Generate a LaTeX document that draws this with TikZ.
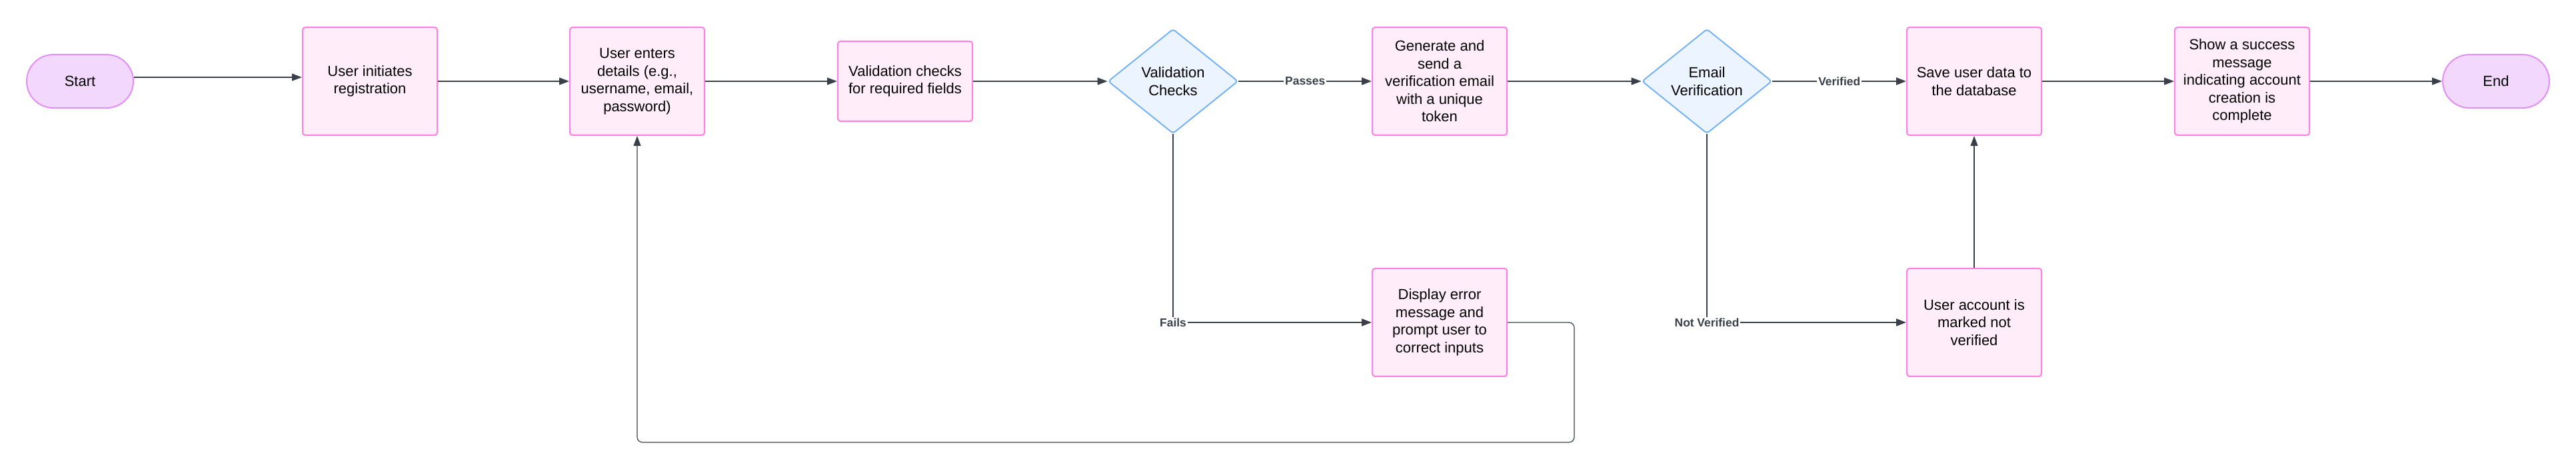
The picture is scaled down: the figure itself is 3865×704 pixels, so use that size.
\documentclass[tikz,border=0pt]{standalone}
\usepackage{fontspec}
\setmainfont{Liberation Sans}
\usetikzlibrary{shapes.geometric,arrows.meta}

\definecolor{boxfill}{HTML}{FFEEFA}
\definecolor{boxline}{HTML}{FF80DF}
\definecolor{termfill}{HTML}{F2D8FC}
\definecolor{termline}{HTML}{E090F5}
\definecolor{decfill}{HTML}{EBF4FF}
\definecolor{decline}{HTML}{6BAEF7}
\definecolor{wire}{HTML}{3A4049}

\tikzset{
  stepbox/.style={draw=boxline, fill=boxfill, line width=1pt, rounded corners=2pt,
    minimum width=101pt, minimum height=81pt, inner sep=2pt, align=center,
    font=\fontsize{11}{13.25}\selectfont},
  term/.style={draw=termline, fill=termfill, line width=1pt, rounded corners=20pt,
    minimum width=80pt, minimum height=40pt, font=\fontsize{11}{13.25}\selectfont},
  decision/.style={diamond, draw=decline, fill=decfill, line width=0.9pt, rounded corners=2pt,
    minimum width=97.5pt, minimum height=78.5pt, inner sep=0pt, align=center,
    font=\fontsize{11}{13.25}\selectfont},
  link/.style={draw=wire, line width=0.6pt, -{Triangle[length=7.5pt,width=5.5pt]}},
  tagged/.style={link, line width=1.1pt},
  tag/.style={fill=white, text=wire, inner sep=1pt, font=\fontsize{8.7}{10}\selectfont\bfseries}
}

\begin{document}
\begin{tikzpicture}[x=0.5pt,y=-0.5pt]
\useasboundingbox (0,0) rectangle (3865,704);

% main row
\node[term] (start) at (120,122) {Start};
\node[stepbox] (init) at (555,122) {User initiates\\registration};
\node[stepbox] (enter) at (956,122) {User enters\\details (e.g.,\\username, email,\\password)};
\node[stepbox, minimum height=60pt] (checks) at (1358,122) {Validation checks\\for required fields};
\node[decision] (valid) at (1760,122) {Validation\\Checks};
\node[stepbox] (send) at (2160,122) {Generate and\\send a\\verification email\\with a unique\\token};
\node[decision] (verify) at (2561,122) {Email\\Verification};
\node[stepbox] (save) at (2962,122) {Save user data to\\the database};
\node[stepbox] (success) at (3364,122) {Show a success\\message\\indicating account\\creation is\\complete};
\node[term] (end) at (3745,122) {End};

% lower row
\node[stepbox] (error) at (2160,484) {Display error\\message and\\prompt user to\\correct inputs};
\node[stepbox] (unverified) at (2962,484) {User account is\\marked not\\verified};

\coordinate (failcorner) at (valid |- error);
\coordinate (notcorner) at (verify |- unverified);
\coordinate (loopcorner) at (2362,664);

\draw[link] ([yshift=3pt]start.east) -- ([yshift=3pt]init.west);
\draw[link] (init) -- (enter);
\draw[link] (enter) -- (checks);
\draw[link] (checks) -- (valid);
\draw[tagged] (valid) -- node[tag]{Passes} (send);
\draw[link] (send) -- (verify);
\draw[tagged] (verify) -- node[tag]{Verified} (save);
\draw[link] (save) -- (success);
\draw[link] (success) -- (end);

\draw[draw=wire, line width=0.6pt] (valid.south) -- (failcorner);
\draw[tagged] (failcorner) -- (error);
\node[tag] at (failcorner) {Fails};

\draw[draw=wire, line width=0.6pt] (verify.south) -- (notcorner);
\draw[tagged] (notcorner) -- (unverified);
\node[tag] at (notcorner) {Not Verified};

\draw[link] (unverified) -- (save);
\draw[link, rounded corners=4pt] (error.east) -| (loopcorner) -| (enter.south);
\end{tikzpicture}
\end{document}
